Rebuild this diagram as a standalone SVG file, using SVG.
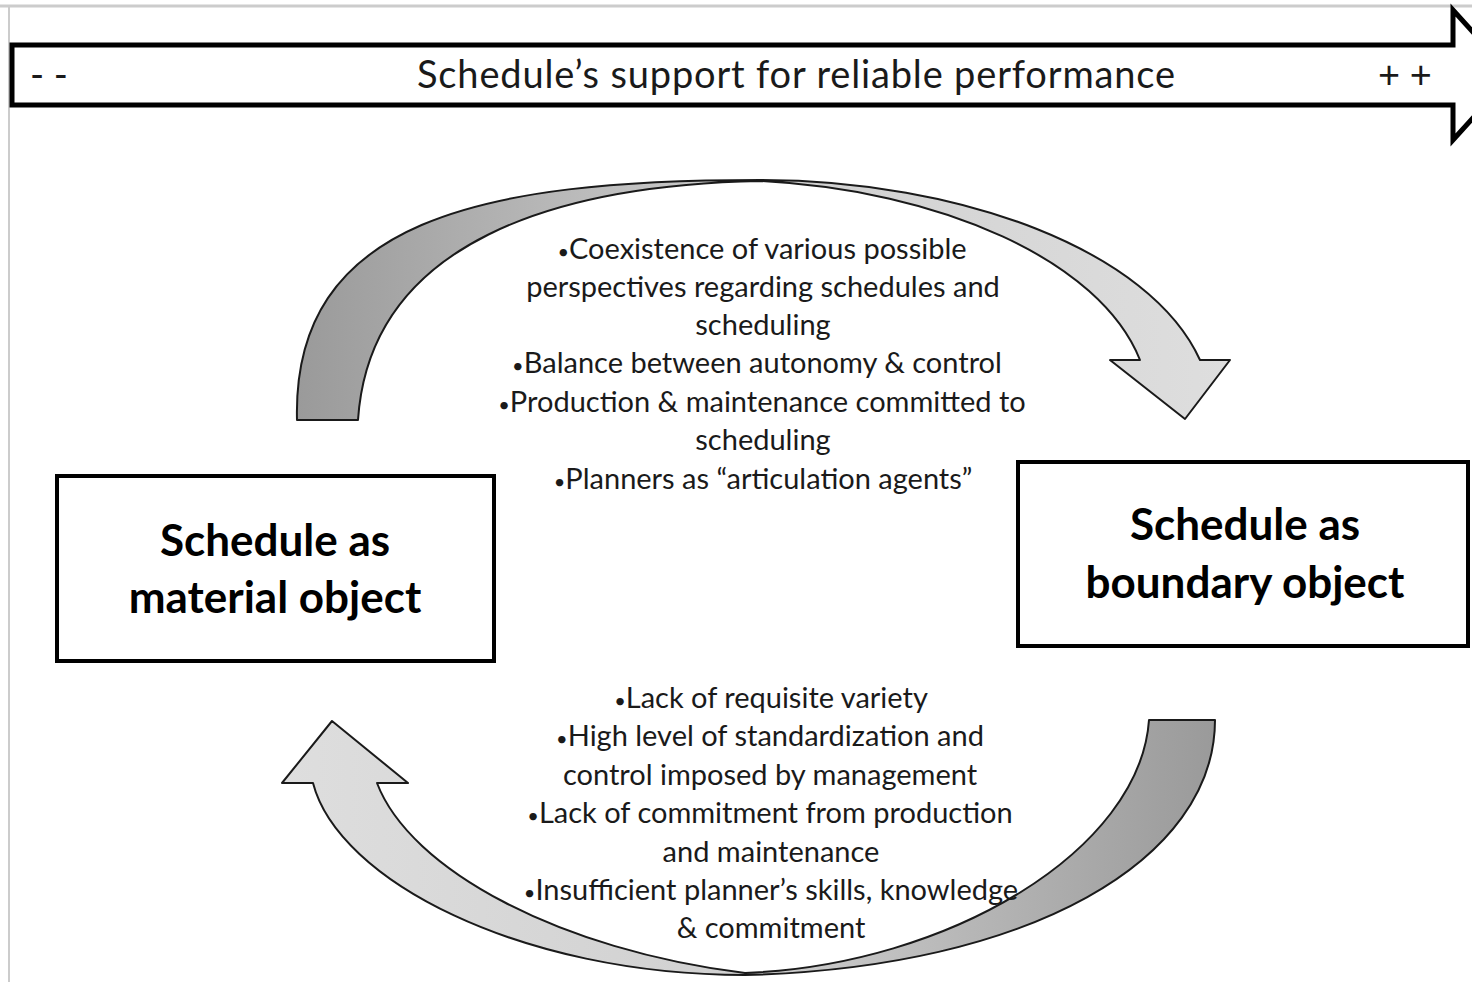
<svg xmlns="http://www.w3.org/2000/svg" width="1472" height="982" viewBox="0 0 1472 982">
<style>
.frame{stroke:#cccccc;fill:none}
.box{fill:#ffffff;stroke:#000000;stroke-width:4}
.band{stroke:#1a1a1a;stroke-width:2;stroke-linejoin:round}
.lbl{font-family:Lato,"Liberation Sans",sans-serif;font-size:29px;fill:#1a1a1a;text-anchor:middle}
.b{font-size:20px}
.title{font-family:Lato,"Liberation Sans",sans-serif;font-size:38px;fill:#1a1a1a}
.node{font-family:Lato,"Liberation Sans",sans-serif;font-weight:bold;font-size:44px;fill:#000000;text-anchor:middle}
</style>
<defs>
<linearGradient id="gTop" gradientUnits="userSpaceOnUse" x1="297" y1="0" x2="1230" y2="0">
<stop offset="0" stop-color="#9a9a9a"/>
<stop offset="0.5" stop-color="#d0d0d0"/>
<stop offset="1" stop-color="#dedede"/>
</linearGradient>
<linearGradient id="gBot" gradientUnits="userSpaceOnUse" x1="1215" y1="0" x2="282" y2="0">
<stop offset="0" stop-color="#9a9a9a"/>
<stop offset="0.5" stop-color="#d0d0d0"/>
<stop offset="1" stop-color="#dedede"/>
</linearGradient>
</defs>
<rect width="1472" height="982" fill="#ffffff"/>
<line class="frame" x1="0" y1="6" x2="1472" y2="6" stroke-width="3"/>
<line class="frame" x1="9" y1="6" x2="9" y2="982" stroke-width="2"/>

<g id="scale-arrow">
<path d="M12,45 L1453,45 L1453,10 L1512,75 L1453,140 L1453,105 L12,105 Z" fill="#ffffff" stroke="#000000" stroke-width="5"/>
<text class="title" x="30" y="88">- -</text>
<text class="title" x="796" y="88" text-anchor="middle" textLength="758">Schedule’s support for reliable performance</text>
<text class="title" x="1378" y="88">+ +</text>
</g>

<g id="connectors">
<path class="band" fill="url(#gTop)" d="M297,420 C292,220 480,180 760,180 C960,180 1150,250 1200,360 L1230,360 L1185,419 L1110,360 L1140,360 C1100,260 940,190 760,181 C560,185 370,240 358,420 Z"/>
<path class="band" fill="url(#gBot)" d="M1149,720 L1215,720 C1215,860 1030,968 745,975 C520,975 338,880 313,783 L282,783 L332,721 L408,783 L377,783 C410,870 560,950 745,973 C950,965 1140,850 1149,720 Z"/>
</g>

<g id="node-material">
<rect class="box" x="57" y="476" width="437" height="185"/>
<text class="node" x="275" y="556">Schedule as</text>
<text class="node" x="275" y="613">material object</text>
</g>

<g id="node-boundary">
<rect class="box" x="1018" y="462" width="450" height="184"/>
<text class="node" x="1245" y="540">Schedule as</text>
<text class="node" x="1245" y="598">boundary object</text>
</g>

<g id="top-factors">
<text class="lbl" x="762" y="259"><tspan class="b">•</tspan>Coexistence of various possible</text>
<text class="lbl" x="763" y="297">perspectives regarding schedules and</text>
<text class="lbl" x="763" y="335">scheduling</text>
<text class="lbl" x="757" y="373"><tspan class="b">•</tspan>Balance between autonomy &amp; control</text>
<text class="lbl" x="762" y="412"><tspan class="b">•</tspan>Production &amp; maintenance committed to</text>
<text class="lbl" x="763" y="450">scheduling</text>
<text class="lbl" x="763" y="489"><tspan class="b">•</tspan>Planners as “articulation agents”</text>
</g>

<g id="bottom-factors">
<text class="lbl" x="771" y="708"><tspan class="b">•</tspan>Lack of requisite variety</text>
<text class="lbl" x="770" y="746"><tspan class="b">•</tspan>High level of standardization and</text>
<text class="lbl" x="770" y="785">control imposed by management</text>
<text class="lbl" x="770" y="823"><tspan class="b">•</tspan>Lack of commitment from production</text>
<text class="lbl" x="771" y="862">and maintenance</text>
<text class="lbl" x="771" y="900"><tspan class="b">•</tspan>Insufficient planner’s skills, knowledge</text>
<text class="lbl" x="771" y="938">&amp; commitment</text>
</g>
</svg>
